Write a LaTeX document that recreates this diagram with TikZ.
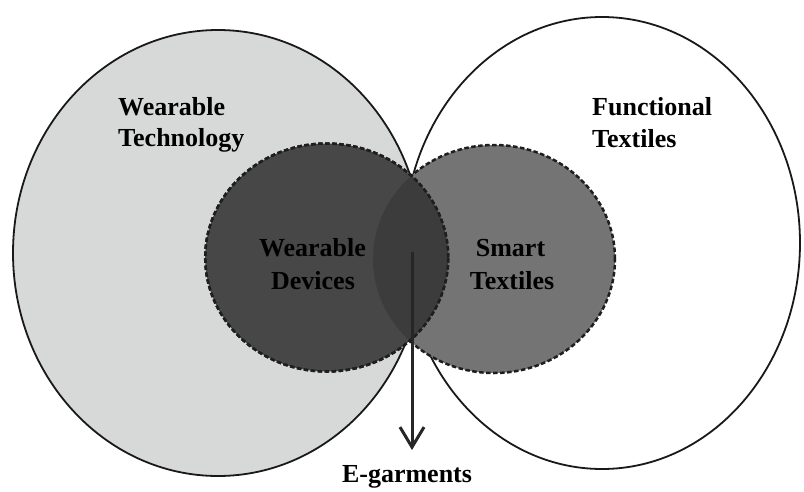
\documentclass[tikz,border=0pt]{standalone}
\usepackage{fontspec}
\setmainfont{Liberation Serif}
\usetikzlibrary{arrows.meta}
\definecolor{techgray}{HTML}{D7D8D8}
\definecolor{devgray}{HTML}{474747}
\definecolor{smartgray}{HTML}{747474}
\definecolor{lensgray}{HTML}{3C3C3C}
\definecolor{rimgray}{HTML}{1E1E1E}
\tikzset{
  outerset/.style={draw=black!90, line width=1.8pt},
  innerset/.style={draw=rimgray, line width=2.5pt, dash pattern=on 4.5pt off 2.5pt},
  lbl/.style={font=\bfseries\fontsize{26}{31}\selectfont, inner sep=0pt, text=black},
  flow/.style={draw=black!85, line width=3pt, -{Straight Barb[length=20pt,width=24pt]}},
}
\begin{document}
\begin{tikzpicture}[x=1pt,y=-1pt]
\useasboundingbox[fill=white] (0,0) rectangle (804,491);

% outer sets: wearable technology and functional textiles
\fill[techgray] (218,253) ellipse [x radius=205pt, y radius=223pt];
\path[outerset] (218,253) ellipse [x radius=205pt, y radius=223pt];
\path[outerset] (602,243) ellipse [x radius=198pt, y radius=226pt];

% inner sets: smart textiles, wearable devices and their overlap
\path[innerset, fill=smartgray] (494,259) ellipse [x radius=121pt, y radius=114pt];
\path[innerset, fill=devgray] (326.7,257.5) ellipse [x radius=121.5pt, y radius=114pt];
\begin{scope}
  \clip (494,259) ellipse [x radius=121pt, y radius=114pt];
  \fill[lensgray] (326.7,257.5) ellipse [x radius=121.5pt, y radius=114pt];
\end{scope}
\path[innerset] (326.7,257.5) ellipse [x radius=121.5pt, y radius=114pt];

% labels
\node[lbl, anchor=base west] (wt1) at (118,115.7) {Wearable};
\node[lbl, anchor=base west] (wt2) at (118,146.7) {Technology};
\node[lbl, anchor=base west] (ft1) at (592,115.7) {Functional};
\node[lbl, anchor=base west] (ft2) at (592,147.5) {Textiles};
\node[lbl, anchor=base] (wd1) at (312.5,256.7) {Wearable};
\node[lbl, anchor=base] (wd2) at (313,289.3) {Devices};
\node[lbl, anchor=base] (st1) at (510.5,256.7) {Smart};
\node[lbl, anchor=base] (st2) at (512,289.3) {Textiles};
\node[lbl, anchor=base] (eg) at (407,482.7) {E-garments};

% arrow from the overlap down to e-garments
\coordinate (egtop) at (412,252);
\coordinate (egtip) at (412,450);
\draw[flow] (egtop) -- (egtip);
\end{tikzpicture}
\end{document}
